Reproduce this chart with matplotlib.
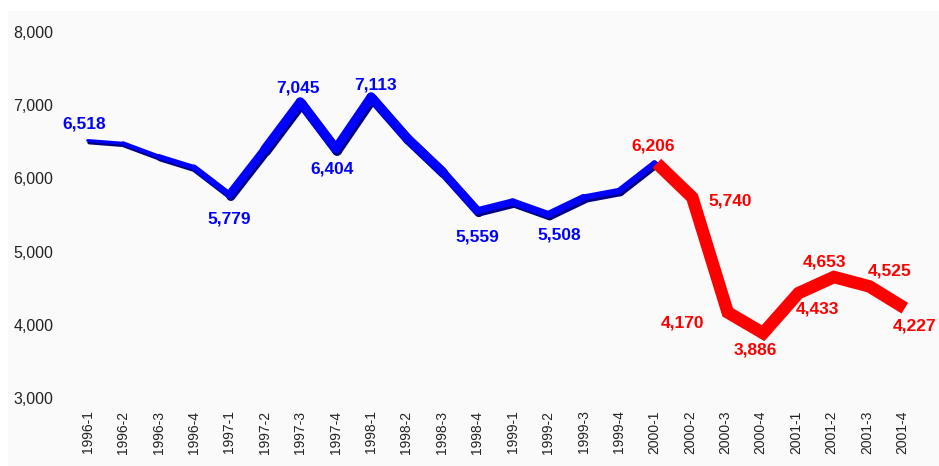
import matplotlib
matplotlib.use("Agg")
import matplotlib.pyplot as plt
from matplotlib.patches import Rectangle
from matplotlib.collections import LineCollection
from matplotlib.transforms import ScaledTranslation
import numpy as np

plt.rcParams['font.family'] = ['Liberation Sans', 'DejaVu Sans']

# ---- data ----
quarters = ["1996-1", "1996-2", "1996-3", "1996-4",
            "1997-1", "1997-2", "1997-3", "1997-4",
            "1998-1", "1998-2", "1998-3", "1998-4",
            "1999-1", "1999-2", "1999-3", "1999-4",
            "2000-1", "2000-2", "2000-3", "2000-4",
            "2001-1", "2001-2", "2001-3", "2001-4"]
values = [6518, 6480, 6300, 6150,
          5779, 6400, 7045, 6404,
          7113, 6560, 6100, 5559,
          5680, 5508, 5740, 5830,
          6206, 5740, 4170, 3886,
          4433, 4653, 4525, 4227]
red_start = 16  # red series from 2000-1 onward
labeled_idx = [0, 4, 6, 7, 8, 11, 13, 16, 17, 18, 19, 20, 21, 22, 23]
y_ticks = [3000, 4000, 5000, 6000, 7000, 8000]

# ---- styling ----
label_offsets = {0: (-4, 16), 4: (0, -24), 6: (-2, 14), 7: (-4, -20), 8: (5, 12),
                 11: (0, -26), 13: (11, -21), 16: (-1, 17), 17: (40, -4),
                 18: (-43, -11), 19: (-5, -17), 20: (21, -16), 21: (-7, 15),
                 22: (23, 15), 23: (12, -18)}
# ribbon-like width of the blue line per segment (pixels)
seg_width_px = [3, 4, 5, 6, 8, 9, 9, 9, 9, 9, 8, 7, 7, 7, 6, 6,
                6, 6, 6, 6, 6, 6, 6]

fig = plt.figure(figsize=(9.39, 4.66), dpi=100, facecolor='white')
fig.patches.append(Rectangle((8/939, 0), 1, 1 - 11/466, transform=fig.transFigure,
                             facecolor='#fafafa', edgecolor='none', zorder=-10))
ax = fig.add_axes([70/939, (466-398)/466, 850/939, (398-32)/466])
ax.set_facecolor('none')

x = np.arange(len(values))
y = np.array(values, dtype=float)
pts = np.column_stack([x, y])
segs = np.stack([pts[:-1], pts[1:]], axis=1)
lw_pt = [w * 0.72 for w in seg_width_px]

# navy shadow (slightly lower/right) then blue ribbon
shadow_tf = ax.transData + ScaledTranslation(1.5/100, -2/100, fig.dpi_scale_trans)
ax.add_collection(LineCollection(segs[:red_start], colors='#000080',
                                 linewidths=[w + 0.6 for w in lw_pt[:red_start]],
                                 capstyle='round', joinstyle='round',
                                 transform=shadow_tf, zorder=2))
ax.add_collection(LineCollection(segs[:-1], colors='#0000ff', linewidths=lw_pt[:-1],
                                 capstyle='round', joinstyle='round', zorder=3))
# red line on top for the later period
shift_tf = ax.transData + ScaledTranslation(2.5/100, 0, fig.dpi_scale_trans)
ax.plot(x[red_start:], y[red_start:], color='#ff0000', lw=9,
        solid_joinstyle='miter', solid_capstyle='butt', zorder=4, transform=shift_tf)

for i in labeled_idx:
    col = '#ff0000' if i >= red_start else '#0000ff'
    ax.annotate(f"{values[i]:,}", (x[i], values[i]), xytext=label_offsets[i],
                textcoords='offset pixels', ha='center', va='center',
                color=col, fontsize=12.5, fontweight='bold', zorder=5)

ax.set_xlim(-0.5, len(values) - 0.5)
ax.set_ylim(3000, 8000)
ax.set_yticks(y_ticks)
ax.set_yticklabels([f"{v:,}" for v in y_ticks], fontsize=11.5, color='#222222')
ax.set_xticks(x)
ax.set_xticklabels(quarters, rotation=90, fontsize=10, color='#222222')
ax.tick_params(axis='both', length=0)
ax.tick_params(axis='y', pad=12)
ax.tick_params(axis='x', pad=9)
for s in ax.spines.values():
    s.set_visible(False)

fig.savefig('out.png', dpi=100, facecolor=fig.get_facecolor())
